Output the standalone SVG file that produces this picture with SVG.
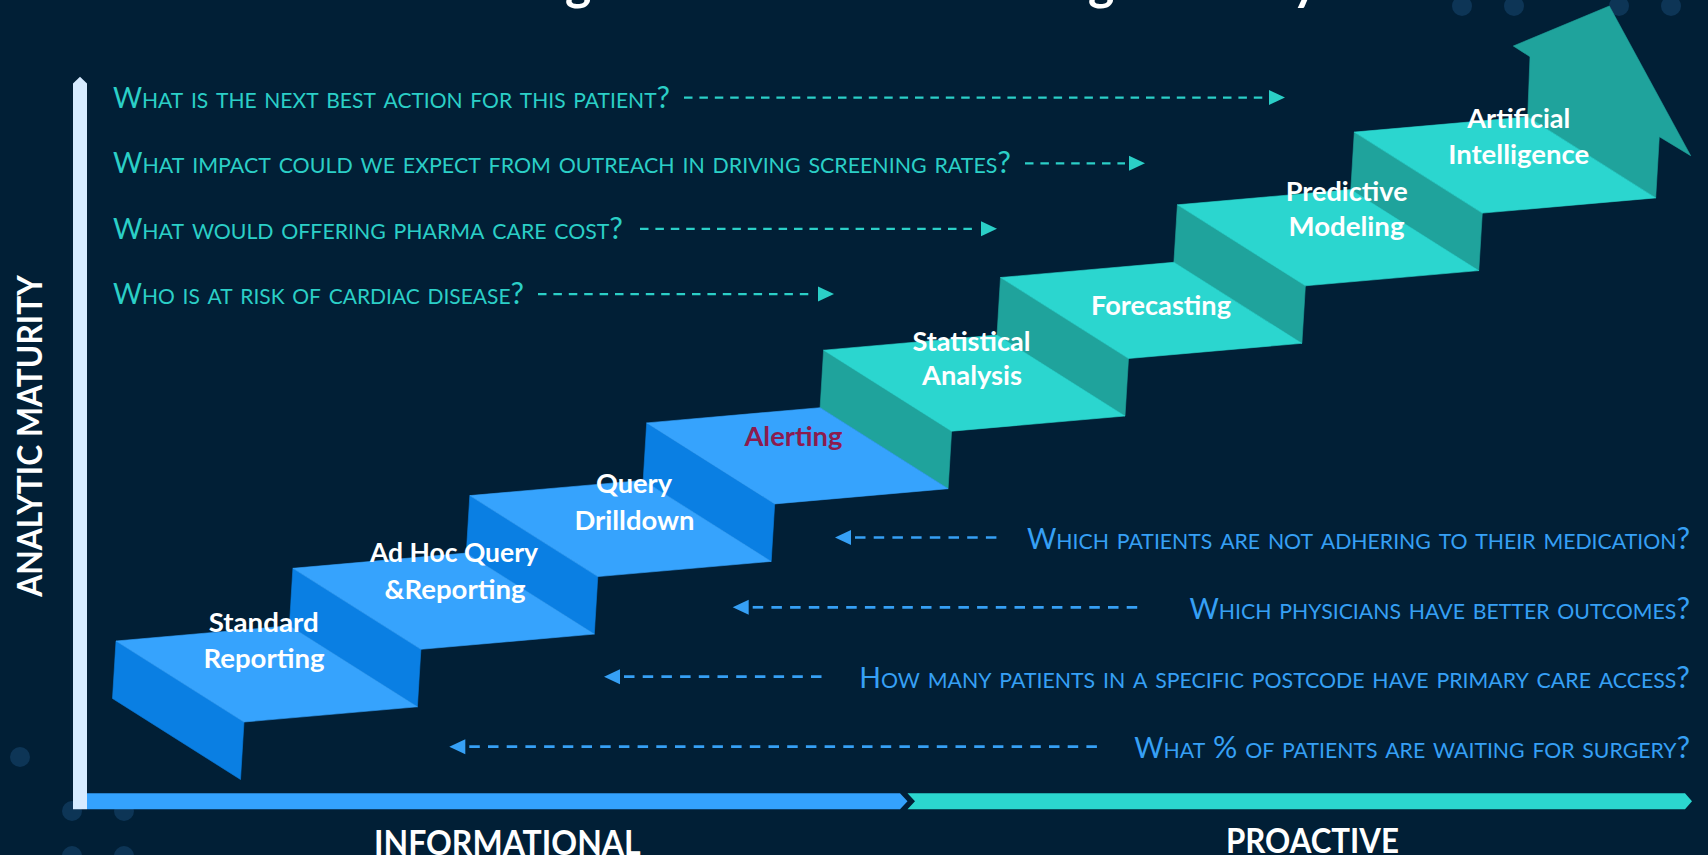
<svg xmlns="http://www.w3.org/2000/svg" width="1708" height="855" viewBox="0 0 1708 855">
<defs>
<style>
.bg{fill:#011f36}
.dot{fill:#0d3556}
.btop{fill:#36a3fd;stroke:#36a3fd;stroke-width:0.6;stroke-linejoin:round}
.bside{fill:#0a7fe3;stroke:#0a7fe3;stroke-width:0.6;stroke-linejoin:round}
.ttop{fill:#2bd6cf;stroke:#2bd6cf;stroke-width:0.6;stroke-linejoin:round}
.tside{fill:#1fa39c;stroke:#1fa39c;stroke-width:0.6;stroke-linejoin:round}
.lbl{font-family:Lato,"Open Sans","Liberation Sans",sans-serif;font-weight:700;font-size:26px;fill:#ffffff}
.axl{font-family:Lato,"Open Sans","Liberation Sans",sans-serif;font-weight:700;font-size:34.7px;fill:#ffffff}
.qt{font-family:Lato,"Open Sans","Liberation Sans",sans-serif;font-weight:400;font-size:28px;font-variant:small-caps;fill:#2bcfc7}
.qb{font-family:Lato,"Open Sans","Liberation Sans",sans-serif;font-weight:400;font-size:28px;font-variant:small-caps;fill:#36a0f5}
.sc{font-size:30px}
.at{stroke:#2bcfc7;stroke-width:2.25;stroke-dasharray:8.5 6.9;fill:none}
.ab{stroke:#36a0f5;stroke-width:2.7;stroke-dasharray:10.5 8.2;fill:none}
</style>
<marker id="mt" markerUnits="userSpaceOnUse" markerWidth="22" markerHeight="16" refX="-4" refY="7.5" orient="auto" overflow="visible">
<path d="M0,0 L16,7.5 L0,15 z" fill="#2bcfc7"/>
</marker>
<marker id="mb" markerUnits="userSpaceOnUse" markerWidth="22" markerHeight="16" refX="-4" refY="7.5" orient="auto-start-reverse" overflow="visible">
<path d="M0,0 L16,7.5 L0,15 z" fill="#36a0f5"/>
</marker>
</defs>

<rect class="bg" x="0" y="0" width="1708" height="855"/>

<g id="background-dots">
<circle class="dot" cx="1462" cy="6" r="10"/>
<circle class="dot" cx="1514" cy="6" r="10"/>
<circle class="dot" cx="1619" cy="6" r="10"/>
<circle class="dot" cx="1671" cy="6" r="10"/>
<circle class="dot" cx="20" cy="757" r="10"/>
<circle class="dot" cx="72" cy="811" r="10"/>
<circle class="dot" cx="124" cy="811" r="10"/>
<circle class="dot" cx="72" cy="856" r="10"/>
<circle class="dot" cx="124" cy="856" r="10"/>
</g>

<g id="title-fragment" font-family="Lato,'Open Sans','Liberation Sans',sans-serif" font-weight="700" font-size="50" fill="#ffffff">
<text x="565" y="0">g</text>
<text x="1088" y="0">g</text>
<text x="1292" y="0">y</text>
</g>

<g id="axes">
<polygon points="87,793.3 900,793.3 907.5,801.3 900,809.3 87,809.3" fill="#34a2fd"/>
<polygon points="907.5,793.3 1685,793.3 1692,801.3 1685,809.3 907.5,809.3 915,801.3" fill="#2bd6cf"/>
<polygon points="73,83.5 80,76.7 87,83.5 87,809.3 73,809.3" fill="#d6ebff"/>
<text class="axl" transform="translate(41.7,436) rotate(-90)" x="-160.8" y="0" textLength="321.7" lengthAdjust="spacingAndGlyphs">ANALYTIC MATURITY</text>
<text class="axl" x="374" y="854.5" textLength="266.6" lengthAdjust="spacingAndGlyphs">INFORMATIONAL</text>
<text class="axl" x="1226" y="853.3" textLength="173" lengthAdjust="spacingAndGlyphs">PROACTIVE</text>
</g>

<g id="step-8">
<polygon class="tside" points="1527.7,116.9 1530,56.7 1513.3,46 1609.3,6 1690.7,155.7 1659.3,136.7 1655.7,197.9"/>
<polygon class="tside" points="1354.3,132.1 1482.3,213.1 1478.8,270.6 1350.8,189.6"/>
<polygon class="ttop" points="1354.3,132.1 1527.7,116.9 1655.7,197.9 1482.3,213.1"/>
<text class="lbl" x="1467.3" y="128.3" textLength="103" lengthAdjust="spacingAndGlyphs">Artificial</text>
<text class="lbl" x="1448.2" y="164.3" textLength="141" lengthAdjust="spacingAndGlyphs">Intelligence</text>
</g>

<g id="step-7">
<polygon class="tside" points="1177.4,204.8 1305.4,285.8 1301.9,343.3 1173.9,262.3"/>
<polygon class="ttop" points="1177.4,204.8 1350.8,189.6 1478.8,270.6 1305.4,285.8"/>
<text class="lbl" x="1285.7" y="201" textLength="122" lengthAdjust="spacingAndGlyphs">Predictive</text>
<text class="lbl" x="1288.5" y="236" textLength="116" lengthAdjust="spacingAndGlyphs">Modeling</text>
</g>

<g id="step-6">
<polygon class="tside" points="1000.5,277.5 1128.5,358.5 1125,416 997,335"/>
<polygon class="ttop" points="1000.5,277.5 1173.9,262.3 1301.9,343.3 1128.5,358.5"/>
<text class="lbl" x="1091" y="315" textLength="140" lengthAdjust="spacingAndGlyphs">Forecasting</text>
</g>

<g id="step-5">
<polygon class="tside" points="823.6,350.2 951.6,431.2 948.1,488.7 820.1,407.7"/>
<polygon class="ttop" points="823.6,350.2 997,335 1125,416 951.6,431.2"/>
<text class="lbl" x="912.4" y="350.7" textLength="118" lengthAdjust="spacingAndGlyphs">Statistical</text>
<text class="lbl" x="922" y="385" textLength="100" lengthAdjust="spacingAndGlyphs">Analysis</text>
</g>

<g id="step-4">
<polygon class="bside" points="646.7,422.9 774.7,503.9 771.2,561.4 643.2,480.4"/>
<polygon class="btop" points="646.7,422.9 820.1,407.7 948.1,488.7 774.7,503.9"/>
<text class="lbl" x="744.4" y="445.7" textLength="98" lengthAdjust="spacingAndGlyphs" style="fill:#8c1b4f">Alerting</text>
</g>

<g id="step-3">
<polygon class="bside" points="469.8,495.6 597.8,576.6 594.3,634.1 466.3,553.1"/>
<polygon class="btop" points="469.8,495.6 643.2,480.4 771.2,561.4 597.8,576.6"/>
<text class="lbl" x="596" y="493" textLength="76" lengthAdjust="spacingAndGlyphs">Query</text>
<text class="lbl" x="574.5" y="529.5" textLength="120" lengthAdjust="spacingAndGlyphs">Drilldown</text>
</g>

<g id="step-2">
<polygon class="bside" points="292.9,568.3 420.9,649.3 417.4,706.8 289.4,625.8"/>
<polygon class="btop" points="292.9,568.3 466.3,553.1 594.3,634.1 420.9,649.3"/>
<text class="lbl" x="370" y="562" textLength="168" lengthAdjust="spacingAndGlyphs">Ad Hoc Query</text>
<text class="lbl" x="384.5" y="599" textLength="141" lengthAdjust="spacingAndGlyphs">&amp;Reporting</text>
</g>

<g id="step-1">
<polygon class="bside" points="116,641 244,722 240.5,779.5 112.5,698.5"/>
<polygon class="btop" points="116,641 289.4,625.8 417.4,706.8 244,722"/>
<text class="lbl" x="208.7" y="631.7" textLength="110" lengthAdjust="spacingAndGlyphs">Standard</text>
<text class="lbl" x="203.5" y="668.3" textLength="121" lengthAdjust="spacingAndGlyphs">Reporting</text>
</g>

<g id="questions-proactive">
<text class="qt" x="113" y="107.5" textLength="557" lengthAdjust="spacingAndGlyphs">W<tspan class="sc">hat is the next best action for this patient?</tspan></text>
<text class="qt" x="113" y="173" textLength="898" lengthAdjust="spacingAndGlyphs">W<tspan class="sc">hat impact could we expect from outreach in driving screening rates?</tspan></text>
<text class="qt" x="113" y="238.5" textLength="510" lengthAdjust="spacingAndGlyphs">W<tspan class="sc">hat would offering pharma care cost?</tspan></text>
<text class="qt" x="113" y="303.5" textLength="411" lengthAdjust="spacingAndGlyphs">W<tspan class="sc">ho is at risk of cardiac disease?</tspan></text>
</g>

<g id="questions-informational">
<text class="qb" x="1690" y="549" text-anchor="end" textLength="663" lengthAdjust="spacingAndGlyphs">W<tspan class="sc">hich patients are not adhering to their medication?</tspan></text>
<text class="qb" x="1690" y="618.5" text-anchor="end" textLength="500.5" lengthAdjust="spacingAndGlyphs">W<tspan class="sc">hich physicians have better outcomes?</tspan></text>
<text class="qb" x="1690" y="688" text-anchor="end" textLength="830.7" lengthAdjust="spacingAndGlyphs">H<tspan class="sc">ow many patients in a specific postcode have primary care access?</tspan></text>
<text class="qb" x="1690" y="758" text-anchor="end" textLength="555.7" lengthAdjust="spacingAndGlyphs">W<tspan class="sc">hat % of patients are waiting for surgery?</tspan></text>
</g>

<g id="connectors">
<line class="at" x1="684" y1="97.5" x2="1265" y2="97.5" marker-end="url(#mt)"/>
<line class="at" x1="1025" y1="163.3" x2="1125" y2="163.3" marker-end="url(#mt)"/>
<line class="at" x1="640" y1="228.8" x2="977" y2="228.8" marker-end="url(#mt)"/>
<line class="at" x1="538" y1="294" x2="814" y2="294" marker-end="url(#mt)"/>
<line class="ab" x1="855" y1="537.5" x2="997.5" y2="537.5" marker-start="url(#mb)"/>
<line class="ab" x1="752.7" y1="607.3" x2="1145" y2="607.3" marker-start="url(#mb)"/>
<line class="ab" x1="624" y1="676.7" x2="821.7" y2="676.7" marker-start="url(#mb)"/>
<line class="ab" x1="469.3" y1="746.7" x2="1098.3" y2="746.7" marker-start="url(#mb)"/>
</g>
</svg>
